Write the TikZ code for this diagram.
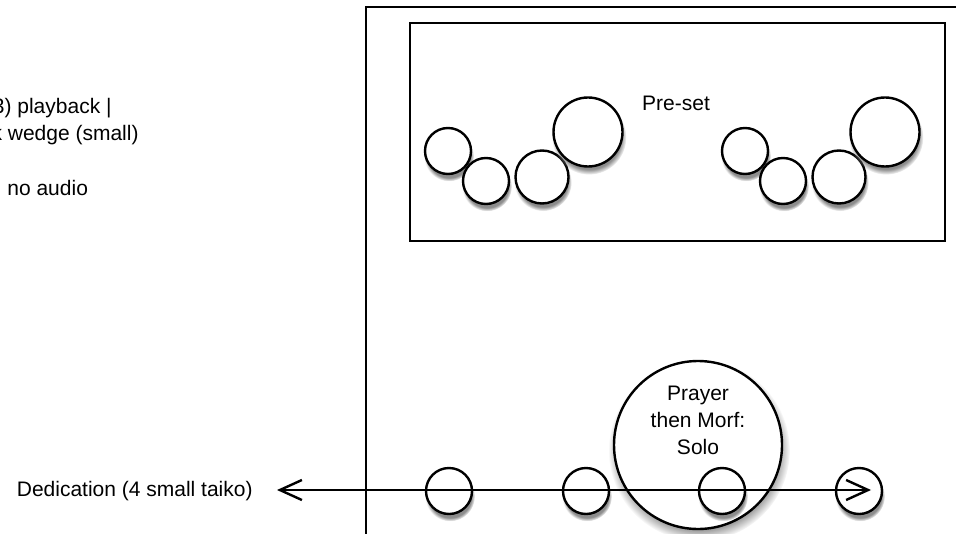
\documentclass[tikz,border=0pt]{standalone}
\usepackage{fontspec}
\setmainfont{Liberation Sans}
\usetikzlibrary{arrows.meta,shadows}

\tikzset{
  drum/.style={circle, draw, line width=1.2pt, fill=white, inner sep=0pt, minimum size=#1,
    circular drop shadow={shadow scale=1.08, shadow xshift=0.5pt, shadow yshift=-2.5pt, opacity=0.9}},
  lbl/.style={inner sep=0pt, font=\fontsize{10.5}{13.5}\selectfont},
  barb/.style={line width=1.2pt, {Straight Barb[length=11pt,width=10pt]}-{Straight Barb[length=11pt,width=10pt]}}
}

\begin{document}
\begin{tikzpicture}[x=0.5pt,y=-0.5pt]
  \useasboundingbox (0,0) rectangle (956,534);
  % stage
  \draw[line width=1.2pt] (366,534) -- (366,7) -- (956,7);
  \draw[line width=1.2pt] (410,23) rectangle (945,241);
  \node[lbl] (preset) at (676,103) {Pre-set};
  \foreach \dx/\s in {0/l,297/r}{
    \node[drum=23pt] (\s1) at (448+\dx,151) {};
    \node[drum=23pt] (\s2) at (486+\dx,181) {};
    \node[drum=26.5pt] (\s3) at (542+\dx,177) {};
    \node[drum=34.5pt] (\s4) at (588+\dx,132) {};
  }
  % notes
  \node[lbl, anchor=east] (playback) at (112,108) {3) playback |};
  \node[lbl, anchor=east] (wedge) at (139,135) {k wedge (small)};
  \node[lbl, anchor=west] (noaudio) at (7,188) {no audio};
  % front line
  \node[drum=84pt] (prayer) at (698,445) {};
  \node[lbl, align=center] (prayertext) at (698,420) {Prayer\\then Morf:\\Solo};
  \foreach \x [count=\i] in {449,586,722,859}
    \node[drum=23pt] (t\i) at (\x,491) {};
  \node[lbl, anchor=east] (dedication) at (253,491) {Dedication (4 small taiko)};
  \coordinate (tipL) at (277,490);
  \coordinate (tipR) at (871,490);
  \draw[barb] (tipL) -- (tipR);
\end{tikzpicture}
\end{document}
